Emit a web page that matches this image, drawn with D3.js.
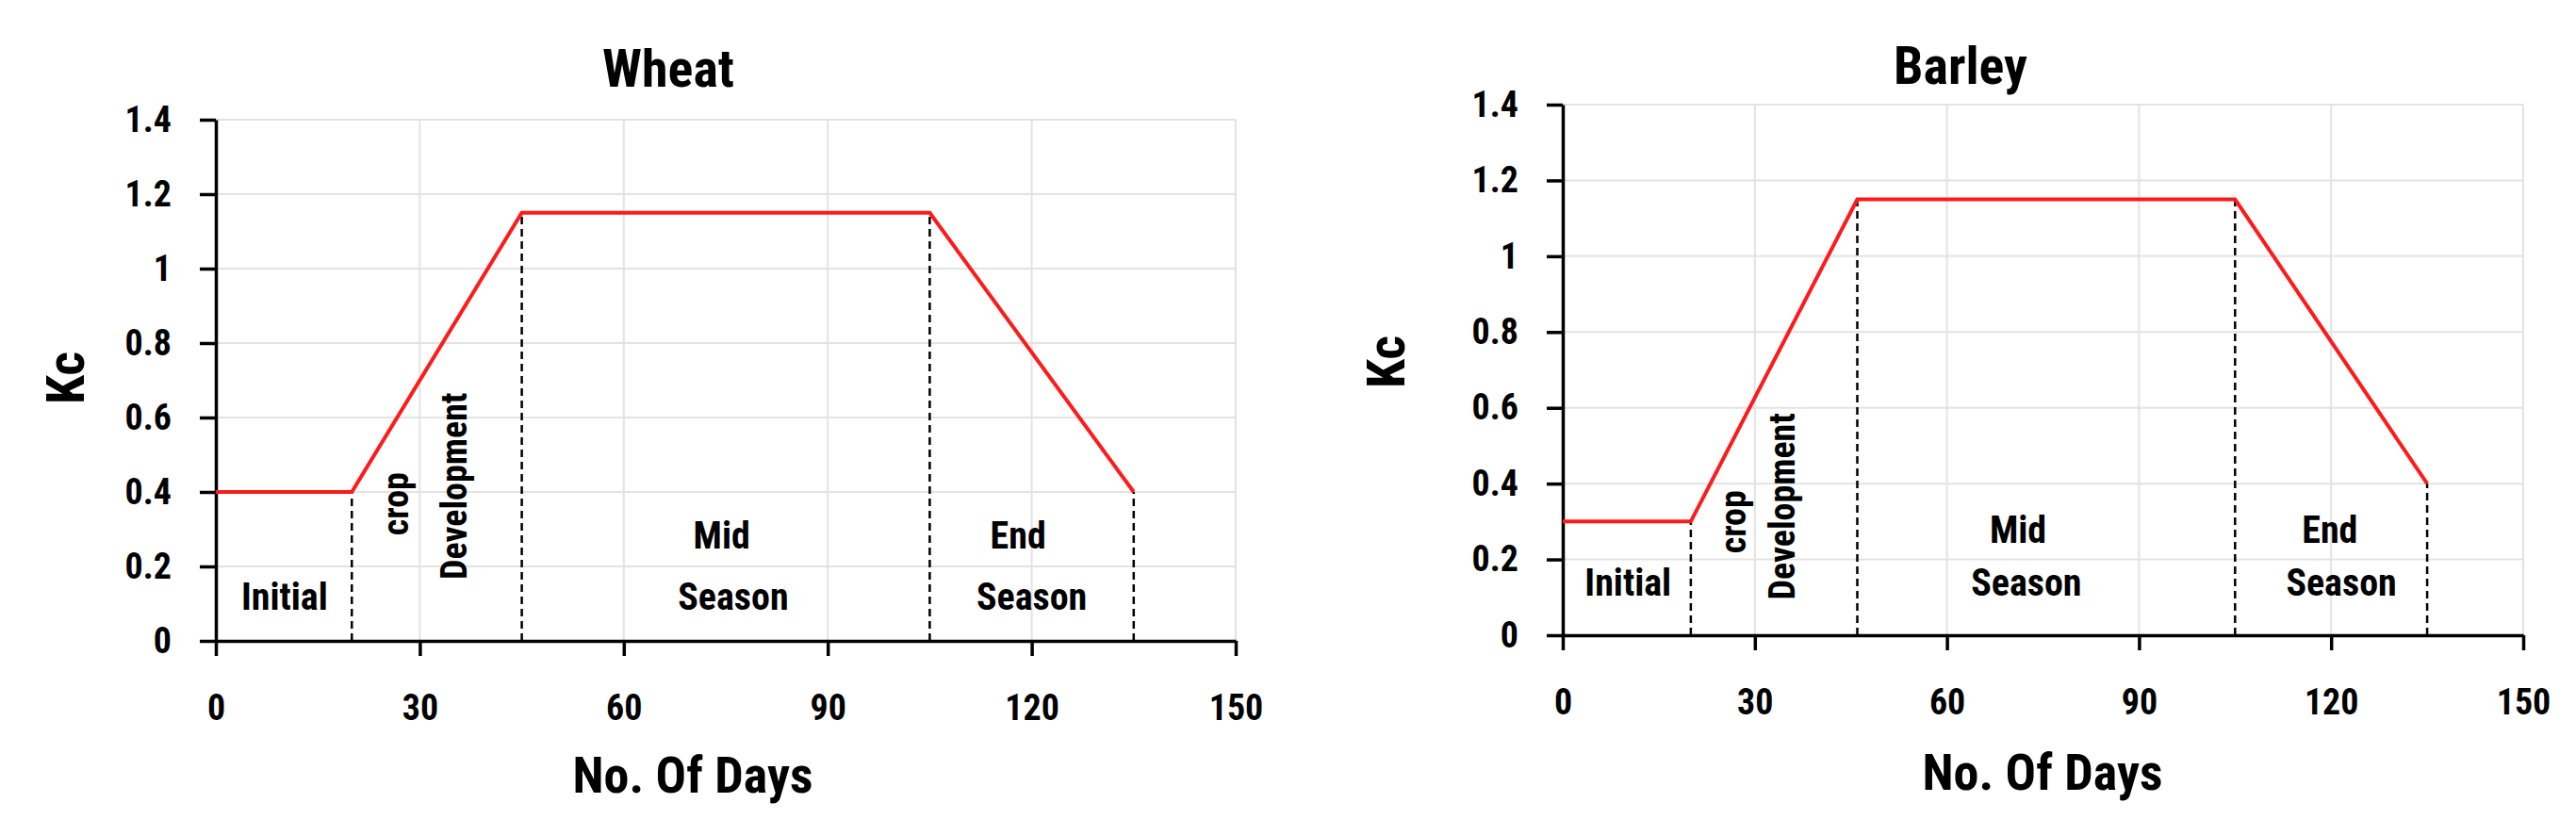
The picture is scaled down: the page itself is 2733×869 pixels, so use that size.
<!DOCTYPE html>
<html><head><meta charset="utf-8">
<script src="https://cdn.jsdelivr.net/npm/d3@7"></script>
<style>body{margin:0;background:#fff}text{font-family:"Liberation Sans Narrow","Roboto Condensed","Liberation Sans",Arial,sans-serif;font-weight:bold;fill:#000}</style>
</head><body><svg id="c" width="2733" height="869"></svg>
<script>
const xTicks=[0,30,60,90,120,150];
const yTicks=[0,0.2,0.4,0.6,0.8,1,1.2,1.4];
const wheatDays=[0,20,45,105,135];
const wheatKc=[0.4,0.4,1.15,1.15,0.4];
const barleyDays=[0,20,46,105,135];
const barleyKc=[0.3,0.3,1.15,1.15,0.4];
const stageNames=["Initial","crop","Development","Mid","Season","End","Season"];
const wheatStagePos=[[10.1,0.084],[26.5,0.368],[35.1,0.416],[74.4,0.247],[76.1,0.084],[118,0.247],[120,0.084]];
const barleyStagePos=[[10.2,0.104],[26.6,0.299],[34.3,0.34],[71.1,0.244],[72.4,0.104],[119.8,0.244],[121.6,0.104]];
const panels=[
 {title:"Wheat",days:wheatDays,kc:wheatKc,pos:wheatStagePos,x0:229,x1:1311,y0:680,y1:127,tx:709,ty:92,kx:70,ky:401,xlx:735,xly:841},
 {title:"Barley",days:barleyDays,kc:barleyKc,pos:barleyStagePos,x0:1658,x1:2677,y0:674,y1:111,tx:2080,ty:89,kx:1471,ky:384,xlx:2167,xly:838}
];
const svg=d3.select("#c");
panels.forEach(p=>{
 const x=d3.scaleLinear().domain([0,150]).range([p.x0,p.x1]);
 const y=d3.scaleLinear().domain([0,1.4]).range([p.y0,p.y1]);
 const g=svg.append("g");
 g.append("g").selectAll("line").data(yTicks.slice(1)).join("line")
  .attr("x1",x(0)).attr("x2",x(150)).attr("y1",d=>y(d)).attr("y2",d=>y(d)).attr("stroke","#e3e3e3").attr("stroke-width",2);
 g.append("g").selectAll("line").data(xTicks.slice(1)).join("line")
  .attr("y1",y(0)).attr("y2",y(1.4)).attr("x1",d=>x(d)).attr("x2",d=>x(d)).attr("stroke","#e3e3e3").attr("stroke-width",2);
 const xa=g.append("g").attr("transform",`translate(0,${y(0)})`).call(d3.axisBottom(x).tickValues(xTicks).tickSize(16).tickPadding(41).tickSizeOuter(0));
 const ya=g.append("g").attr("transform",`translate(${x(0)},0)`).call(d3.axisLeft(y).tickValues(yTicks).tickFormat(d3.format("~g")).tickSize(17).tickPadding(30).tickSizeOuter(0));
 [xa,ya].forEach(a=>{a.selectAll("path,line").attr("stroke","#000").attr("stroke-width",3.5);a.selectAll("text").attr("font-size",38).attr("font-family",null);});
 g.append("g").selectAll("line").data(p.days.slice(1)).join("line")
  .attr("x1",d=>x(d)).attr("x2",d=>x(d)).attr("y1",y(0)).attr("y2",(d,j)=>y(p.kc[j+1]))
  .attr("stroke","#000").attr("stroke-width",2.5).attr("stroke-dasharray","8,5");
 g.append("path").datum(p.days.map((d,j)=>[d,p.kc[j]]))
  .attr("d",d3.line().x(d=>x(d[0])).y(d=>y(d[1]))).attr("fill","none").attr("stroke","#ff1a1a").attr("stroke-width",4);
 stageNames.forEach((s,j)=>{
  const [dx,dk]=p.pos[j];
  const t=g.append("text").text(s).attr("font-size",j===1||j===2?44:40).attr("text-anchor","middle");
  if(j===1||j===2){t.attr("transform",`translate(${x(dx)},${y(dk)}) rotate(-90)`).attr("dominant-baseline","central").attr("font-family","'Liberation Sans',Arial,sans-serif").attr("font-size",38);}
  else t.attr("x",x(dx)).attr("y",y(dk));
 });
 svg.append("text").text(p.title).attr("x",p.tx).attr("y",p.ty).attr("text-anchor","middle").attr("font-size",56);
 svg.append("text").text("Kc").attr("transform",`translate(${p.kx},${p.ky}) rotate(-90)`).attr("text-anchor","middle").attr("dominant-baseline","central").attr("font-size",56).attr("font-family","'Liberation Sans',Arial,sans-serif");
 svg.append("text").text("No. Of Days").attr("x",p.xlx).attr("y",p.xly).attr("text-anchor","middle").attr("font-size",54);
});
</script>
</body></html>
